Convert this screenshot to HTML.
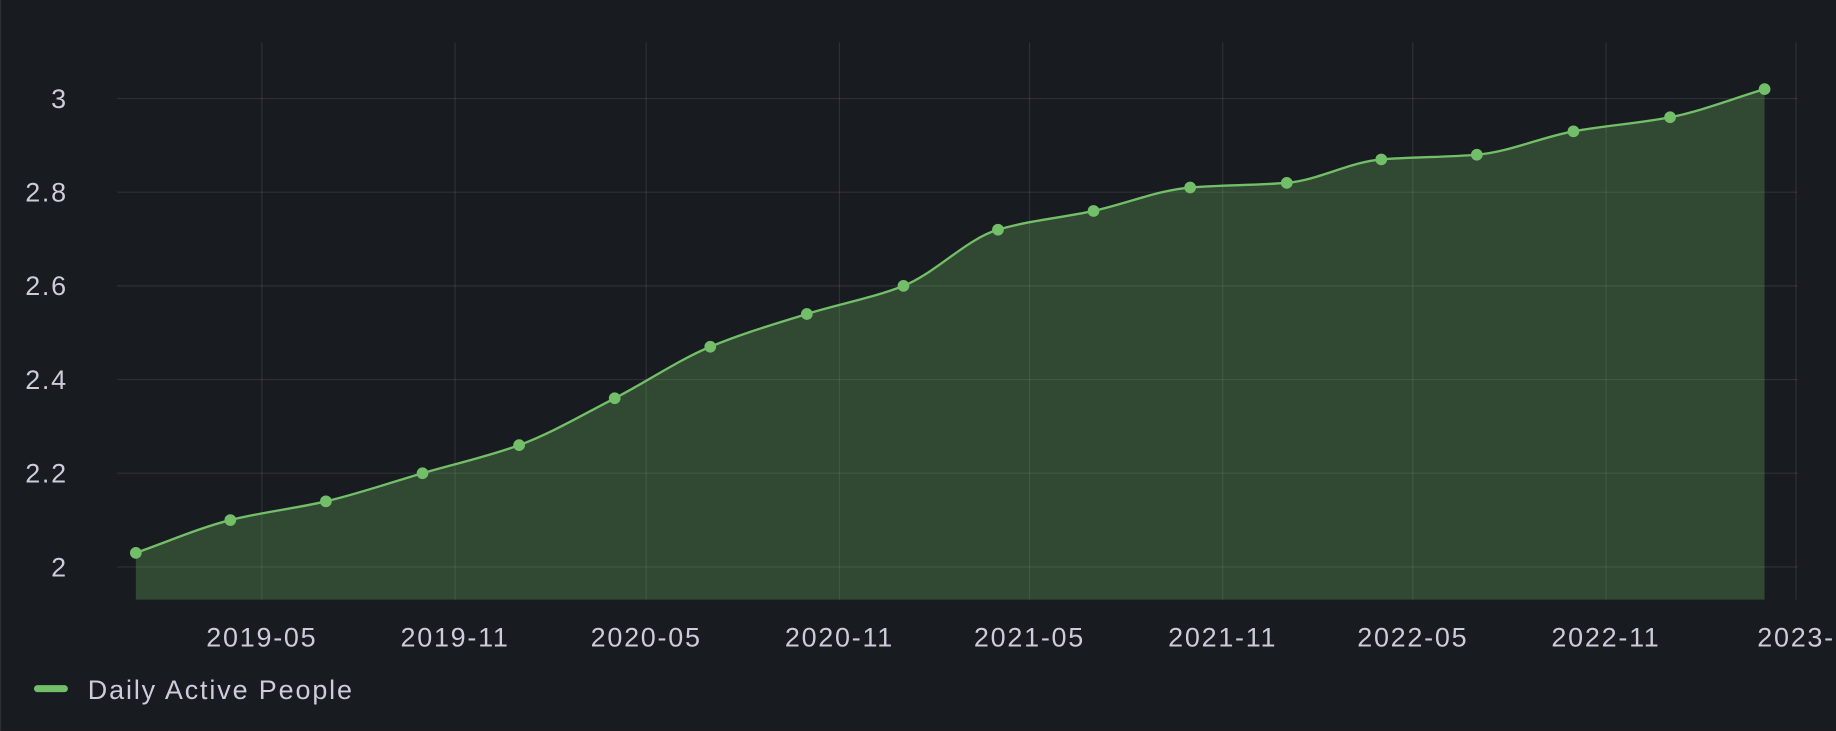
<!DOCTYPE html>
<html><head><meta charset="utf-8"><style>
html,body{margin:0;padding:0;background:#181b1f;}
svg{display:block;}
text{font-family:"Liberation Sans",sans-serif;fill:#ccccdc;}
</style></head><body>
<svg id="chart" width="1836" height="731" viewBox="0 0 1568 624" xmlns="http://www.w3.org/2000/svg">
<rect x="0" y="0" width="1568" height="624" fill="#181b1f"/>
<line x1="0.5" y1="0" x2="0.5" y2="624" stroke="#2c3036" stroke-width="1"/>
<g id="grid"></g>
<g id="series"></g>
<g id="axes"></g>
<g>
<rect x="29" y="585" width="29" height="6" rx="3" fill="#73bf69"/>
<text x="75" y="597" font-size="23" letter-spacing="1.6">Daily Active People</text>
</g>
</svg>
<script>
const dates = ["2019-01-01","2019-04-01","2019-07-01","2019-10-01","2020-01-01","2020-04-01","2020-07-01","2020-10-01","2021-01-01","2021-04-01","2021-07-01","2021-10-01","2022-01-01","2022-04-01","2022-07-01","2022-10-01","2023-01-01","2023-04-01"];
const values = [2.03,2.10,2.14,2.20,2.26,2.36,2.47,2.54,2.60,2.72,2.76,2.81,2.82,2.87,2.88,2.93,2.96,3.02];
const yTicks = [2,2.2,2.4,2.6,2.8,3];
const yTickLabels = ["2","2.2","2.4","2.6","2.8","3"];
const xTicks = ["2019-05-01","2019-11-01","2020-05-01","2020-11-01","2021-05-01","2021-11-01","2022-05-01","2022-11-01","2023-05-01"];
const xTickLabels = ["2019-05","2019-11","2020-05","2020-11","2021-05","2021-11","2022-05","2022-11","2023-"];

const NS="http://www.w3.org/2000/svg";
const plotL=100, plotR=1535, plotT=36, plotB=512;
const t0=Date.parse(dates[0]), t1=Date.parse(dates[dates.length-1]);
const x=d=>116+(Date.parse(d)-t0)/(t1-t0)*(1507-116);
const y=v=>484-(v-2)*400;
function mk(tag,attrs,parent){const e=document.createElementNS(NS,tag);for(const k in attrs)e.setAttribute(k,attrs[k]);parent.appendChild(e);return e;}
const grid=document.getElementById('grid'),axes=document.getElementById('axes'),series=document.getElementById('series');
yTicks.forEach((v,i)=>{
  const l=mk('line',{x1:plotL,x2:plotR,y1:y(v),y2:y(v),stroke:'rgba(204,204,220,0.12)','stroke-width':1},grid);
  
  
  const t=mk('text',{x:58,y:y(v)+8,'text-anchor':'end','font-size':23,'letter-spacing':1.5},axes);
  t.textContent=yTickLabels[i];
  
  
});
xTicks.forEach((d,i)=>{
  const l=mk('line',{x1:x(d),x2:x(d),y1:plotT,y2:plotB,stroke:'rgba(204,204,220,0.12)','stroke-width':1},grid);
  
  
  const t=mk('text',{x:x(d),y:552,'text-anchor':'middle','font-size':23,'letter-spacing':1.5},axes);
  t.textContent=xTickLabels[i];
  
  
});
const pts=dates.map((d,i)=>[x(d),y(values[i])]);
const n=pts.length,dx=[],m=[],s=[];
for(let i=0;i<n-1;i++){dx[i]=pts[i+1][0]-pts[i][0];s[i]=(pts[i+1][1]-pts[i][1])/dx[i];}
m[0]=s[0];m[n-1]=s[n-2];
for(let i=1;i<n-1;i++){m[i]=s[i-1]*s[i]<=0?0:3*(dx[i-1]+dx[i])/((2*dx[i]+dx[i-1])/s[i-1]+(dx[i]+2*dx[i-1])/s[i]);}
let p='M'+pts[0][0]+','+pts[0][1];
for(let i=0;i<n-1;i++){const h=dx[i]/3;p+=' C'+(pts[i][0]+h)+','+(pts[i][1]+m[i]*h)+' '+(pts[i+1][0]-h)+','+(pts[i+1][1]-m[i+1]*h)+' '+pts[i+1][0]+','+pts[i+1][1];}
const area=mk('path',{d:p+' L'+pts[n-1][0]+','+plotB+' L'+pts[0][0]+','+plotB+' Z',fill:'rgba(115,191,105,0.28)'},series);


const line=mk('path',{d:p,fill:'none',stroke:'#73bf69','stroke-width':2},series);


pts.forEach(q=>{
  const c=mk('circle',{cx:q[0],cy:q[1],r:5,fill:'#73bf69'},series);
  
  
});
</script>
</body></html>
